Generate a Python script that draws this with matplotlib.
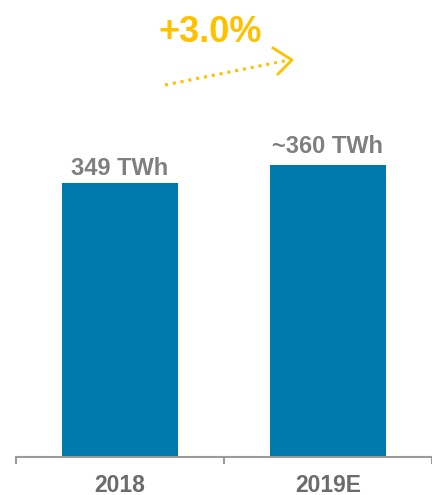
import matplotlib.pyplot as plt
from matplotlib.lines import Line2D

years = ['2018', '2019E']
demand = [349, 360]
value_labels = ['349 TWh', '~360 TWh']
growth_label = '+3.0%'

plt.rcParams['font.family'] = ['Liberation Sans', 'DejaVu Sans']

fig = plt.figure(figsize=(4.32, 4.95), dpi=100)
ax = fig.add_axes([16 / 432, 38 / 495, 1 - 16 / 432, 457 / 495])

x = range(len(years))
ax.bar(x, demand, width=0.56, color='#0079AD')
ax.set_xlim(-0.5, 1.447)
ax.set_ylim(182, 461)

# value labels above bars (offset in pixels -> points)
offsets = [8, 12]
for i, (v, lab) in enumerate(zip(demand, value_labels)):
    ax.annotate(lab, (i, v), xytext=(0, offsets[i] * 0.72), textcoords='offset points',
                ha='center', va='baseline', fontsize=17, fontweight='bold', color='#7f7f7f')

for s in ['top', 'right', 'left']:
    ax.spines[s].set_visible(False)
ax.spines['bottom'].set_color('#9a9a9a')
ax.spines['bottom'].set_linewidth(1.5)
ax.set_yticks([])

# category labels between boundary ticks
ax.set_xticks([-0.5, 0.5, 1.5])
ax.set_xticklabels([])
ax.tick_params(axis='x', direction='out', length=5, width=1.5, color='#9a9a9a')
for i, yr in enumerate(years):
    ax.annotate(yr, (i, 0), xycoords=('data', 'axes fraction'), xytext=(0, -28 * 0.72),
                textcoords='offset points', ha='center', va='center',
                fontsize=16.5, fontweight='bold', color='#6b6b6b')

# growth arrow
def fx(px):
    return px / 432

def fy(py):
    return 1 - py / 495

gold = '#FFC000'
fig.add_artist(Line2D([fx(165), fx(289)], [fy(85), fy(60)], transform=fig.transFigure,
                      color=gold, linestyle=(0, (1, 1.6)), linewidth=2.2))
fig.add_artist(Line2D([fx(273), fx(292), fx(278)], [fy(48), fy(60), fy(74)],
                      transform=fig.transFigure, color=gold, linewidth=2))
fig.text(fx(210), fy(32), growth_label, ha='center', va='center', fontsize=26,
         fontweight='bold', color=gold)

fig.savefig('out.png', dpi=100)
